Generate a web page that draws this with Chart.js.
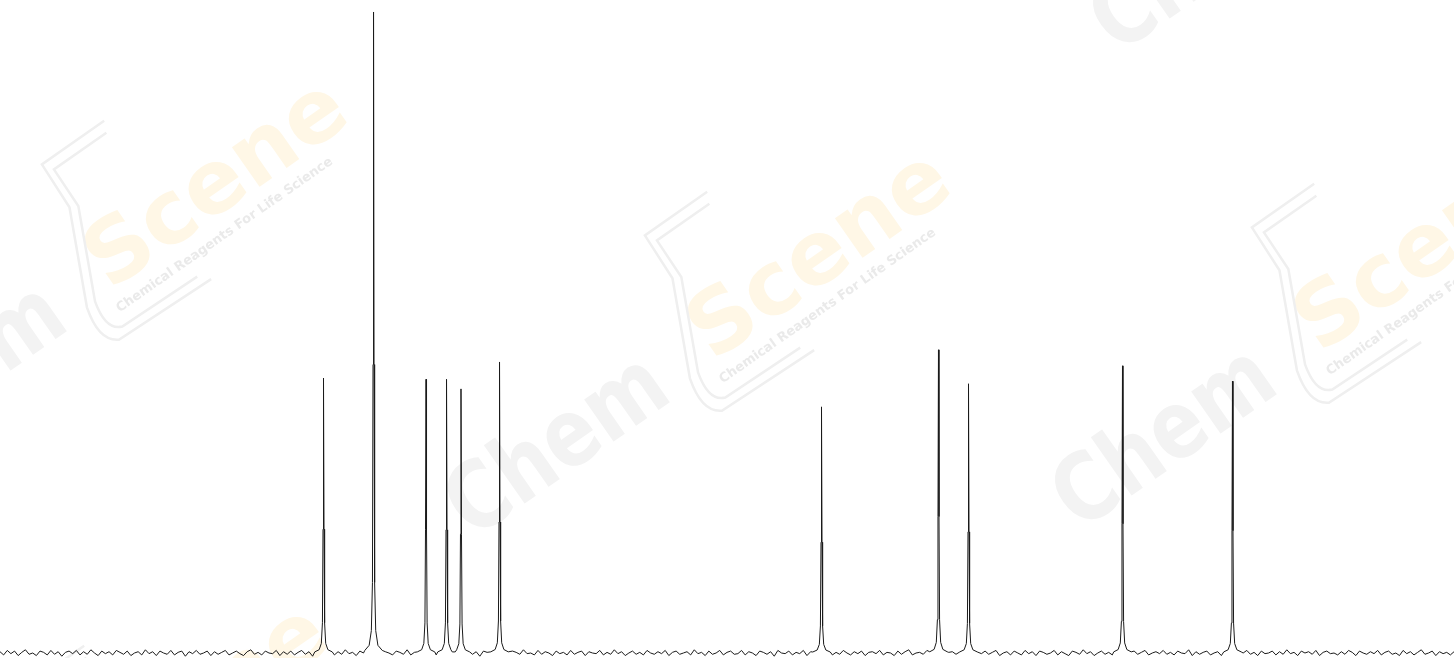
<!DOCTYPE html>
<html>
<style>
html, body {
    margin: 0;
    padding: 0;
    background-color: white;
}
#wrap {
    width: 1454px;
    height: 658px;
}
</style>
  <head>
    <meta charset="utf-8">
    <title>Espectro</title>
  </head>
  <body>
    <div id="wrap"><canvas id="myChart"></canvas></div>

    <script src="https://cdn.jsdelivr.net/npm/chart.js@4.4.1/dist/chart.umd.min.js"></script>
    <script type="text/javascript">
      // picos: desplazamiento (ppm) y altura relativa
      const peakShift  = [145.50, 138.62, 131.40, 128.58, 126.59, 121.29, 77.00, 60.91, 56.78, 35.60, 20.47];
      const peakHeight = [42.9, 100.0, 42.7, 42.7, 41.2, 45.4, 38.4, 47.3, 42.0, 44.8, 42.4];

      const shapeOffset = [-1.2, -0.6, -0.3, -0.15, -0.07, 0, 0.07, 0.15, 0.3, 0.6, 1.2];
      const shapeFrac   = [0.004, 0.012, 0.035, 0.11, 0.45, 1, 0.45, 0.11, 0.035, 0.012, 0.004];

      // linea base (ruido), un valor cada 0.5 ppm desde 190 hasta -10
      const baseStart = 190;
      const baseStep = 0.5;
      const baseline = [
        0.2,-0.3,0.4,-0.1,0.3,-0.4,0.1,0.5,-0.2,0.0,-0.4,0.3,0.1,-0.3,0.4,-0.2,0.2,-0.5,0.1,0.3,
        -0.1,0.4,-0.3,0.2,-0.2,0.5,0.0,-0.4,0.3,-0.1,0.2,-0.3,0.4,0.1,-0.2,0.3,-0.4,0.0,0.2,-0.3,
        0.5,-0.1,0.2,-0.4,0.3,0.0,-0.2,0.4,-0.3,0.1,0.3,-0.5,0.2,-0.1,0.4,-0.2,0.0,0.3,-0.4,0.2,
        -0.2,0.1,0.4,-0.3,0.0,0.3,-0.1,-0.4,0.2,0.5,-0.2,0.1,-0.3,0.3,0.0,-0.1,0.4,-0.4,0.2,-0.2,
        0.3,-0.3,0.1,0.4,-0.2,0.2,-0.5,0.1,0.3,-0.1,0.0,0.4,-0.3,0.2,-0.2,0.5,-0.1,0.1,-0.4,0.3,
        0.0,-0.2,0.3,-0.1,0.4,-0.4,0.2,0.0,-0.3,0.3,0.1,-0.2,0.5,-0.3,0.1,-0.1,0.3,-0.4,0.2,0.0,
        -0.3,0.4,-0.1,0.2,-0.2,0.1,0.4,-0.4,0.0,0.3,-0.2,0.2,-0.5,0.3,0.1,-0.1,0.4,-0.3,0.0,0.2,
        -0.4,0.3,0.1,-0.2,0.5,-0.1,0.0,-0.3,0.4,-0.2,0.2,0.0,-0.4,0.3,-0.1,0.1,-0.3,0.4,-0.2,0.1,
        0.3,-0.4,0.2,0.0,-0.1,0.4,-0.3,0.1,-0.2,0.5,-0.1,0.2,-0.4,0.0,0.3,-0.2,0.1,-0.3,0.4,0.0,
        -0.2,0.2,-0.1,0.4,-0.4,0.1,0.3,-0.2,0.0,0.2,-0.3,0.5,-0.1,0.1,-0.4,0.3,-0.2,0.0,0.4,-0.3,
        0.1,0.3,-0.2,-0.1,0.4,-0.3,0.2,0.0,-0.4,0.3,0.1,-0.2,0.2,-0.5,0.4,0.0,-0.1,0.3,-0.3,0.1,
        -0.1,0.4,-0.4,0.2,0.0,-0.2,0.3,-0.1,0.5,-0.3,0.1,-0.2,0.4,0.0,-0.3,0.2,-0.1,0.3,-0.4,0.1,
        0.2,-0.1,0.4,-0.3,0.1,0.0,-0.4,0.3,-0.2,0.2,0.5,-0.3,0.0,0.1,-0.2,0.4,-0.1,-0.3,0.2,0.3,
        -0.4,0.1,0.2,-0.2,0.4,-0.1,0.0,0.3,-0.5,0.2,-0.1,0.3,-0.2,0.1,0.4,-0.4,0.0,0.2,-0.3,0.3,
        0.0,-0.3,0.4,-0.1,0.2,-0.4,0.3,0.1,-0.2,0.0,0.4,-0.3,0.2,-0.1,-0.4,0.3,0.1,-0.2,0.5,-0.1,
        0.2,-0.4,0.0,0.3,-0.2,0.1,-0.3,0.4,-0.1,0.2,0.0,-0.5,0.3,-0.2,0.1,0.4,-0.3,0.0,0.2,-0.1,
        0.4,-0.2,0.1,-0.3,0.3,0.0,-0.1,0.5,-0.4,0.2,-0.2,0.1,0.3,-0.3,0.0,0.2,-0.4,0.4,-0.1,0.1,
        -0.3,0.2,0.0,0.4,-0.2,0.1,-0.4,0.3,-0.1,0.0,0.3,-0.3,0.2,-0.2,0.5,-0.1,0.1,-0.4,0.3,0.0,
        0.2,-0.2,0.4,-0.4,0.1,0.3,-0.1,0.0,-0.3,0.2,-0.2,0.4,0.1,-0.4,0.3,0.0,-0.2,0.2,-0.1,0.4,
        -0.3,0.1,0.3,-0.2,0.0,-0.4,0.4,-0.1,0.2,-0.3,0.1,0.5,-0.2,0.0,0.3,-0.4,0.2,-0.1,0.1,-0.3,
        0.2
      ];

      // armar los puntos del espectro
      const points = [];
      baseline.forEach((v, i) => {
        const x = baseStart - i * baseStep;
        const near = peakShift.some(p => Math.abs(p - x) < 1.3);
        if (!near) points.push({ x: x, y: v });
      });
      peakShift.forEach((p, k) => {
        shapeOffset.forEach((o, j) => {
          points.push({ x: p + o, y: peakHeight[k] * shapeFrac[j] });
        });
      });
      points.sort((a, b) => b.x - a.x);

      // marca de agua (posicion del fondo del matraz)
      const marcas = [
        { x: 703, y: 418 },
        { x: 100, y: 347 },
        { x: 1310, y: 410 },
        { x: 1348, y: -67 },
        { x: 80, y: 872 }
      ];
      const watermark = {
        id: 'watermark',
        beforeDatasetsDraw(chart) {
          const c = chart.ctx;
          marcas.forEach(m => {
            c.save();
            c.translate(m.x, m.y);
            c.rotate(-0.61);
            c.textBaseline = 'alphabetic';
            c.save();
            c.translate(-12, -32);
            c.scale(1, 1.2);
            c.font = 'bold 78px "DejaVu Sans"';
            c.fillStyle = '#f3f3f3';
            c.textAlign = 'right';
            c.fillText('Chem', 0, 0);
            c.restore();
            c.font = 'bold 88px "DejaVu Sans"';
            c.fillStyle = '#fff7e6';
            c.textAlign = 'left';
            c.fillText('Scene', 40, -40);
            c.font = 'bold 13px "DejaVu Sans"';
            c.fillStyle = '#eaeaea';
            c.fillText('Chemical Reagents For Life Science', 36, -17);
            c.strokeStyle = '#efefef';
            c.lineWidth = 2.5;
            c.beginPath();
            c.moveTo(133, -183);
            c.lineTo(57, -183);
            c.lineTo(55, -132);
            c.lineTo(12, -40);
            c.quadraticCurveTo(2, -5, 20, 5);
            c.lineTo(130, 8);
            c.stroke();
            c.beginPath();
            c.moveTo(128, -172);
            c.lineTo(64, -172);
            c.lineTo(63, -128);
            c.lineTo(22, -40);
            c.quadraticCurveTo(14, -10, 30, -4);
            c.lineTo(120, -2);
            c.stroke();
            c.restore();
          });
        }
      };

      var ctx = document.getElementById('myChart').getContext('2d');
      var chart = new Chart(ctx, {
          type: 'line',
          data: {
              datasets: [{
                  label: 'Espectro',
                  borderColor: '#1a1a1a',
                  borderWidth: 1,
                  pointRadius: 0,
                  tension: 0,
                  data: points,
              }]
          },
          options: {
            responsive: true,
            maintainAspectRatio: false,
            animation: false,
            layout: { padding: 0 },
            plugins: {
              legend: { display: false },
              tooltip: { enabled: false }
            },
            scales: {
              x: { type: 'linear', reverse: true, min: -10, max: 190, display: false },
              y: { min: -0.78, max: 101.87, display: false }
            }
          },
          plugins: [watermark]
      });
    </script>
  </body>
</html>
